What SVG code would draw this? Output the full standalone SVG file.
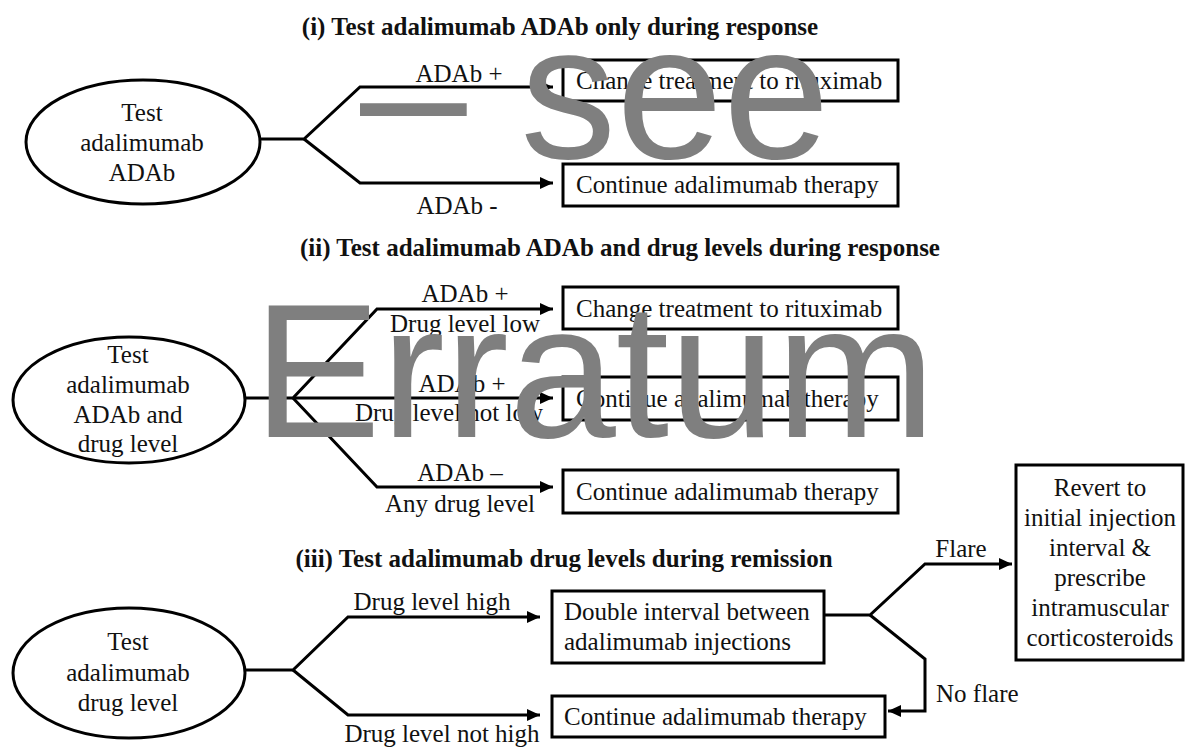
<svg xmlns="http://www.w3.org/2000/svg" width="1187" height="751" viewBox="0 0 1187 751">
<defs>
<marker id="arr" markerUnits="userSpaceOnUse" markerWidth="14" markerHeight="12" refX="13" refY="6" orient="auto">
<path d="M0,0 L13,6 L0,12 z" fill="#000"/>
</marker>
<style>
text{font-family:"Liberation Serif","Times New Roman",serif;font-size:25px;fill:#111}
.t{font-weight:bold;text-anchor:middle}
.m{text-anchor:middle}
.box{fill:#fff;stroke:#000;stroke-width:3}
.ell{fill:#fff;stroke:#000;stroke-width:3}
.c{fill:none;stroke:#000;stroke-width:3;stroke-linejoin:miter}
.a{marker-end:url(#arr)}
.wm{font-family:"Liberation Sans",Arial,sans-serif;font-size:192px;fill:#7f7f7f}
</style>
</defs>
<rect width="1187" height="751" fill="#fff"/>

<g id="titles">
<text class="t" x="560" y="35">(i) Test adalimumab ADAb only during response</text>
<text class="t" x="620" y="256">(ii) Test adalimumab ADAb and drug levels during response</text>
<text class="t" x="564" y="567">(iii) Test adalimumab drug levels during remission</text>
</g>

<g id="connectors">
<path class="c a" d="M260,139 H304 L360,87 H553"/>
<path class="c a" d="M304,139 L360,183 H553"/>
<path class="c a" d="M245,398 H293 L377,309 H553"/>
<path class="c a" d="M293,398 H553"/>
<path class="c a" d="M293,398 L377,487 H553"/>
<path class="c a" d="M245,670 H293 L348,617 H540"/>
<path class="c a" d="M293,670 L348,715 H540"/>
<path class="c a" d="M824,615 H870 L925,564 H1012"/>
<path class="c a" d="M870,615 L925,659 V711 H888"/>
<text class="m" x="459" y="82">ADAb +</text>
<text class="m" x="457" y="214">ADAb -</text>
<text class="m" x="465" y="302">ADAb +</text>
<text class="m" x="465" y="332">Drug level low</text>
<text class="m" x="462" y="392">ADAb +</text>
<text class="m" x="449" y="421">Drug level not low</text>
<text class="m" x="460" y="481">ADAb –</text>
<text class="m" x="460" y="512">Any drug level</text>
<text class="m" x="432" y="610">Drug level high</text>
<text class="m" x="442" y="742">Drug level not high</text>
<text class="m" x="961" y="557">Flare</text>
<text x="936" y="702">No flare</text>
</g>

<g id="test1">
<ellipse class="ell" cx="143" cy="142" rx="117" ry="62"/>
<text class="m" x="142" y="121">Test</text>
<text class="m" x="142" y="151">adalimumab</text>
<text class="m" x="142" y="181">ADAb</text>
</g>
<g id="change1">
<rect class="box" x="563" y="60" width="335" height="41"/>
<text x="576" y="89">Change treatment to rituximab</text>
</g>
<g id="continue1">
<rect class="box" x="563" y="164" width="335" height="42"/>
<text x="576" y="193">Continue adalimumab therapy</text>
</g>

<g id="test2">
<ellipse class="ell" cx="129" cy="400" rx="116" ry="63"/>
<text class="m" x="128" y="363">Test</text>
<text class="m" x="128" y="393">adalimumab</text>
<text class="m" x="128" y="423">ADAb and</text>
<text class="m" x="128" y="452">drug level</text>
</g>
<g id="change2">
<rect class="box" x="563" y="287" width="335" height="42"/>
<text x="576" y="317">Change treatment to rituximab</text>
</g>
<g id="continue2a">
<rect class="box" x="563" y="377" width="335" height="43"/>
<text x="576" y="407">Continue adalimumab therapy</text>
</g>
<g id="continue2b">
<rect class="box" x="563" y="470" width="335" height="43"/>
<text x="576" y="500">Continue adalimumab therapy</text>
</g>

<g id="test3">
<ellipse class="ell" cx="129" cy="673" rx="116" ry="65"/>
<text class="m" x="128" y="650">Test</text>
<text class="m" x="128" y="681">adalimumab</text>
<text class="m" x="128" y="711">drug level</text>
</g>
<g id="double3">
<rect class="box" x="552" y="591" width="272" height="72"/>
<text x="564" y="620">Double interval between</text>
<text x="564" y="650">adalimumab injections</text>
</g>
<g id="continue3">
<rect class="box" x="552" y="696" width="333" height="41"/>
<text x="564" y="725">Continue adalimumab therapy</text>
</g>
<g id="revert3">
<rect class="box" x="1016" y="465" width="167" height="195"/>
<text class="m" x="1100" y="496">Revert to</text>
<text class="m" x="1100" y="526">initial injection</text>
<text class="m" x="1100" y="556">interval &amp;</text>
<text class="m" x="1100" y="586">prescribe</text>
<text class="m" x="1100" y="616">intramuscular</text>
<text class="m" x="1100" y="646">corticosteroids</text>
</g>

<g id="watermark">
<text class="wm" x="360" y="158">– see</text>
<text class="wm" x="253" y="437">Erratum</text>
</g>
</svg>
